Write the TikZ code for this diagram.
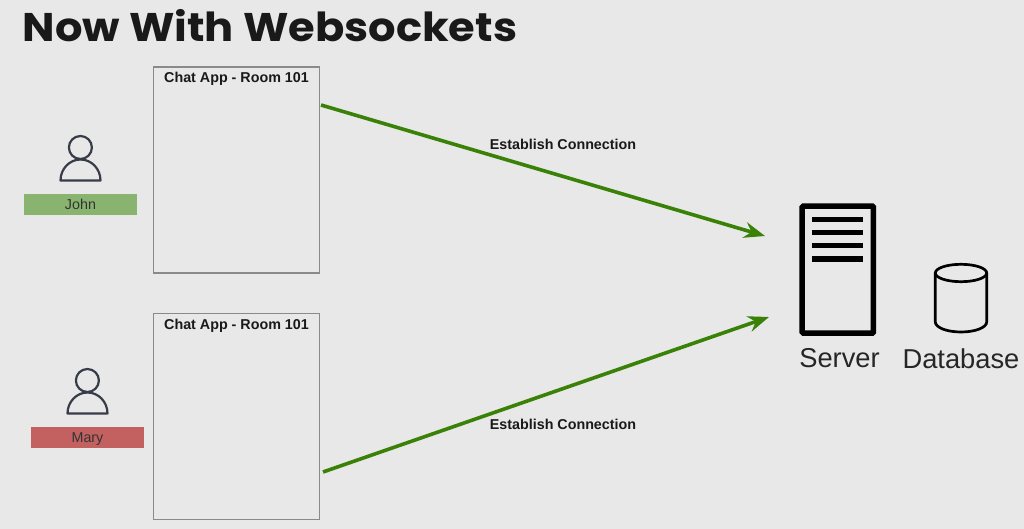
\documentclass[tikz,border=0pt]{standalone}
\usepackage{fontspec}
\setmainfont{Liberation Sans}
\newfontfamily\titlefont[FakeStretch=1.08]{Poppins}
\usetikzlibrary{arrows.meta,positioning}
\definecolor{pagebg}{HTML}{E8E8E8}
\definecolor{linkgreen}{HTML}{3A8207}
\definecolor{johngreen}{HTML}{88B470}
\definecolor{maryred}{HTML}{C36060}
\definecolor{personline}{HTML}{383C48}
\definecolor{boxline}{HTML}{8A8A8A}
\tikzset{
  appbox/.style={draw=boxline,line width=1.2pt,minimum width=166pt,minimum height=206pt,inner sep=0pt},
  apptitle/.style={font=\bfseries\fontsize{14.3}{16}\selectfont,text=black!90},
  namebar/.style={minimum width=113pt,minimum height=21pt,inner sep=0pt,text height=10.6pt,text depth=1pt,font=\fontsize{14.3}{16}\selectfont,text=black!80},
  link/.style={linkgreen,line width=3.6pt,-{Stealth[length=21pt,width=16pt,inset=7pt]}},
  linklabel/.style={font=\bfseries\fontsize{14.3}{16}\selectfont,text=black!90},
  personicon/.style={personline,line width=2.2pt,line join=round},
  bigtext/.style={font=\fontsize{27.3}{30}\selectfont,text=black!85}
}
\begin{document}
\begin{tikzpicture}[x=1pt,y=1pt]
      \fill[pagebg] (0,0) rectangle (1024,-529);
      \node[anchor=west,font=\titlefont\bfseries\fontsize{40}{44}\selectfont,text=black!90] (title) at (19,-26) {Now With Websockets};

      \node[appbox] (appone) at (236.5,-170) {};
      \node[appbox] (apptwo) at (236.5,-416.5) {};
      \node[apptitle] (appone title) at (236.5,-78.5) {Chat App - Room 101};
      \node[apptitle] (apptwo title) at (236.5,-325.5) {Chat App - Room 101};

      \node[namebar,fill=johngreen] (john) at (80.5,-204.5) {John};
      \node[namebar,fill=maryred] (mary) at (87.5,-437.5) {Mary};

      \draw[personicon] (80.4,-147.5) circle (11.5);
      \draw[personicon] (60.5,-180.5) arc (180:0:20 and 21) -- cycle;
      \draw[personicon] (87.4,-380.5) circle (11.5);
      \draw[personicon] (67.5,-413.5) arc (180:0:20 and 21) -- cycle;

      % server
      \draw[black,line width=5.5pt,rounded corners=1pt] (802.2,-206.2) rectangle (873.4,-333);
      \foreach \y in {219.3,232.6,245.7,259}
        \draw[black,line width=5.3pt] (812.3,-\y) -- (863,-\y);
      \node[bigtext] (server) at (839.5,-358.5) {Server};

      % database
      \draw[black,line width=2.7pt] (935.3,-273) -- (935.3,-322) arc (180:360:25.7 and 10) -- (986.7,-273);
      \draw[black,line width=2.7pt] (961,-273) ellipse (25.7 and 8.7);
      \node[bigtext] (database) at (961,-358.5) {Database};

      \coordinate (linkone start) at (321,-105);
      \coordinate (linkone end) at (765,-236);
      \coordinate (linktwo start) at (323,-472);
      \coordinate (linktwo end) at (769,-317);
      \draw[link] (linkone start)--(linkone end);
      \draw[link] (linktwo start)--(linktwo end);
      \node[linklabel] (linkone label) at (563,-144) {Establish Connection};
      \node[linklabel] (linktwo label) at (563,-424.5) {Establish Connection};
    \end{tikzpicture}
\end{document}
